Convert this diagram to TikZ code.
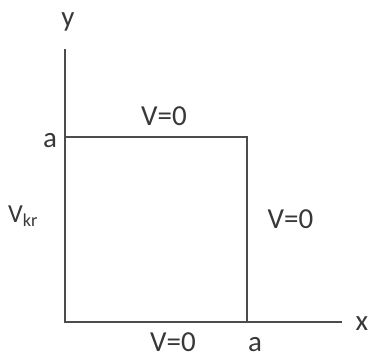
\documentclass[tikz,border=0pt]{standalone}
\usepackage{fontspec}
\setmainfont{Carlito}
\begin{document}
\begin{tikzpicture}[x=1pt,y=1pt,
  lbl/.style={inner sep=0pt,anchor=base,font=\fontsize{29}{33}\selectfont,text=black!78},
  ln/.style={line width=1.8pt,draw=black!70}]
\useasboundingbox (0,0) rectangle (369,357);
\coordinate (O) at (65,35);
\coordinate (Ytop) at (65,308);
\coordinate (Xend) at (342,35);
\coordinate (TL) at (65,220);
\coordinate (TR) at (247,220);
\coordinate (BR) at (247,35);
\draw[ln] (Ytop) -- (O) -- (Xend);
\draw[ln] (TL) -- (TR) -- (BR);
\node[lbl] (ylab) at (68,330) {y};
\node[lbl] (xlab) at (362,27) {x};
\node[lbl] (aleft) at (50,210) {a};
\node[lbl] (abot) at (255,6) {a};
\node[lbl] (vtop) at (164,232) {V=0};
\node[lbl] (vright) at (290.5,129) {V=0};
\node[lbl] (vbot) at (173,6) {V=0};
\node[lbl,anchor=base west,font=\fontsize{26}{30}\selectfont] (vkr) at (8,135) {V\textsubscript{kr}};
\end{tikzpicture}
\end{document}
